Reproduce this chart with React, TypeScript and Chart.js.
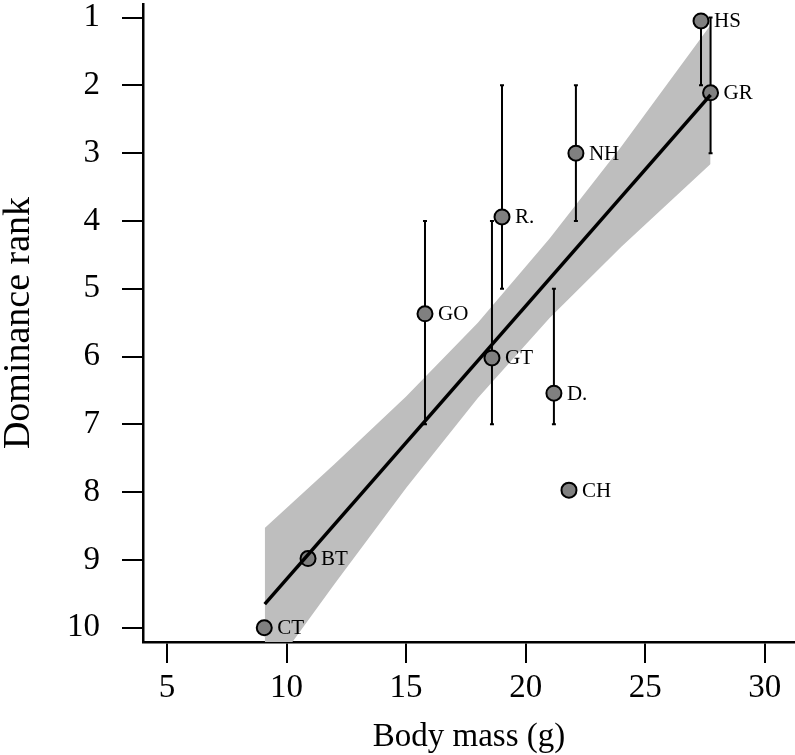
import React, { useEffect, useRef } from "react";
import { Chart, registerables } from "chart.js";

Chart.register(...registerables);

// Species codes, body mass (g) and mean dominance rank
const names = ["HS", "GR", "NH", "R.", "GO", "GT", "D.", "CH", "BT", "CT"];
const mass = [27.33, 27.73, 22.1, 19.01, 15.79, 18.59, 21.18, 21.81, 10.9, 9.07];
const rank = [1.05, 2.11, 3.0, 3.94, 5.37, 6.02, 6.54, 7.97, 8.98, 10.0];
// Rank range (error bars); null = none
const rankMin: (number | null)[] = [1, 1, 2, 2, 4, 4, 5, null, null, null];
const rankMax: (number | null)[] = [2, 3, 4, 5, 7, 7, 7, null, null, null];

// Fitted regression line end points
const fitX = [9.09, 27.73];
const fitY = [9.65, 2.14];

// Confidence band
const bandX = [9.09, 12, 15, 18, 21, 24, 27.73];
const bandUpper = [8.53, 7.59, 6.59, 5.5, 4.26, 2.9, 1.11];
const bandLower = [10.77, 9.36, 7.94, 6.61, 5.43, 4.38, 3.16];

const xTicks = [5, 10, 15, 20, 25, 30];
const yTicks = [1, 2, 3, 4, 5, 6, 7, 8, 9, 10];

const SERIF = "'Liberation Serif', 'Times New Roman', serif";

function noPad(s: any) {
  s.paddingTop = 0;
  s.paddingBottom = 0;
  s.paddingLeft = 0;
  s.paddingRight = 0;
}

export default function App() {
  const ref = useRef<HTMLCanvasElement>(null);

  useEffect(() => {
    if (!ref.current) return;
    Chart.defaults.font.family = SERIF;
    Chart.defaults.color = "#000";

    const overlay = {
      id: "overlay",
      beforeDatasetDraw(chart: any, args: any) {
        if (args.index !== 1) return;
        const { ctx, scales } = chart;
        const xs = scales.x;
        const ys = scales.y;
        ctx.save();
        ctx.strokeStyle = "#000";
        ctx.lineWidth = 2;
        for (let i = 0; i < names.length; i++) {
          const lo = rankMin[i];
          const hi = rankMax[i];
          if (lo == null || hi == null) continue;
          const px = xs.getPixelForValue(mass[i]);
          const y1 = ys.getPixelForValue(lo);
          const y2 = ys.getPixelForValue(hi);
          ctx.beginPath();
          ctx.moveTo(px, y1);
          ctx.lineTo(px, y2);
          ctx.moveTo(px - 2, y1);
          ctx.lineTo(px + 2, y1);
          ctx.moveTo(px - 2, y2);
          ctx.lineTo(px + 2, y2);
          ctx.stroke();
        }
        ctx.restore();
      },
      afterDatasetsDraw(chart: any) {
        const { ctx, scales } = chart;
        ctx.save();
        ctx.fillStyle = "#000";
        ctx.font = `21px ${SERIF}`;
        ctx.textAlign = "left";
        ctx.textBaseline = "middle";
        for (let i = 0; i < names.length; i++) {
          const px = scales.x.getPixelForValue(mass[i]);
          const py = scales.y.getPixelForValue(rank[i]);
          ctx.fillText(names[i], px + 13, py + 1);
        }
        ctx.restore();
      },
    };

    const chart = new Chart(ref.current, {
      type: "line",
      data: {
        datasets: [
          {
            label: "fit",
            data: fitX.map((x, i) => ({ x, y: fitY[i] })),
            borderColor: "#000",
            borderWidth: 3.5,
            pointRadius: 0,
            fill: false,
          },
          {
            label: "points",
            data: mass.map((x, i) => ({ x, y: rank[i] })),
            showLine: false,
            pointRadius: 7.5,
            pointBackgroundColor: "#808080",
            pointBorderColor: "#000",
            pointBorderWidth: 2,
            clip: false as any,
          },
          {
            label: "upper",
            data: bandX.map((x, i) => ({ x, y: bandUpper[i] })),
            borderWidth: 0,
            borderColor: "rgba(0,0,0,0)",
            pointRadius: 0,
            backgroundColor: "#BEBEBE",
            fill: "+1",
          },
          {
            label: "lower",
            data: bandX.map((x, i) => ({ x, y: bandLower[i] })),
            borderWidth: 0,
            borderColor: "rgba(0,0,0,0)",
            pointRadius: 0,
            fill: false,
          },
        ],
      },
      options: {
        animation: false,
        responsive: false,
        layout: { autoPadding: false, padding: { top: 4, right: 0, bottom: 0, left: 0 } },
        plugins: {
          legend: { display: false },
          tooltip: { enabled: false },
        },
        scales: {
          x: {
            type: "linear",
            min: 4.0,
            max: 31.26,
            afterFit: (s: any) => {
              s.height = 113;
              noPad(s);
            },
            afterBuildTicks: (s: any) => {
              s.ticks = xTicks.map((v) => ({ value: v }));
            },
            grid: {
              drawOnChartArea: false,
              drawTicks: true,
              tickLength: 21,
              color: "#000",
              lineWidth: 2,
            },
            border: { display: true, color: "#000", width: 2.5 },
            ticks: {
              padding: 6,
              font: { size: 33 },
              color: "#000",
              maxRotation: 0,
              autoSkip: false,
            },
            title: {
              display: true,
              text: "Body mass (g)",
              font: { size: 33 },
              color: "#000",
              padding: { top: 0, bottom: -2 },
            },
          },
          y: {
            type: "linear",
            reverse: true,
            min: 0.8,
            max: 10.21,
            afterFit: (s: any) => {
              s.width = 143;
              noPad(s);
            },
            afterBuildTicks: (s: any) => {
              s.ticks = yTicks.map((v) => ({ value: v }));
            },
            grid: {
              drawOnChartArea: false,
              drawTicks: true,
              tickLength: 21,
              color: "#000",
              lineWidth: 2,
            },
            border: { display: true, color: "#000", width: 2.5 },
            ticks: {
              padding: 22,
              font: { size: 33 },
              color: "#000",
              autoSkip: false,
            },
            title: {
              display: true,
              text: "Dominance rank",
              font: { size: 38, lineHeight: 1 },
              color: "#000",
              padding: 0,
            },
          },
        },
      },
      plugins: [overlay],
    });

    return () => chart.destroy();
  }, []);

  return (
    <div style={{ position: "fixed", left: 0, top: 0, width: 795, height: 755, background: "#fff" }}>
      <canvas ref={ref} width={795} height={755} style={{ display: "block" }} />
    </div>
  );
}
